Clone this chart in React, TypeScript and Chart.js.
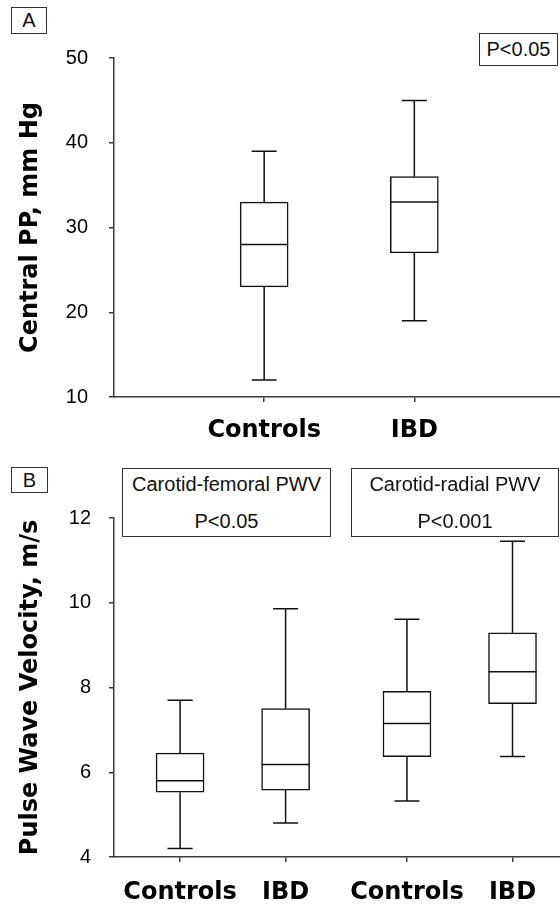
import React, { useEffect, useRef } from 'react';
import { Chart, registerables } from 'chart.js';

Chart.register(...registerables);

// ---------- Panel A: Central pulse pressure (mm Hg) ----------
const centralPPCategories = ['Controls', 'IBD'];
const centralPPGroups = ['Central PP', 'Central PP'];
const centralPPMin = [12, 19];
const centralPPQ1 = [23, 27];
const centralPPMedian = [28, 33];
const centralPPQ3 = [33, 36];
const centralPPMax = [39, 45];
const centralPPTicks = [10, 20, 30, 40, 50];
const centralPPPValue = 'P<0.05';

// ---------- Panel B: Pulse wave velocity (m/s) ----------
const pwvCategories = ['Controls', 'IBD', 'Controls', 'IBD'];
const pwvGroups = ['Carotid-femoral PWV', 'Carotid-femoral PWV', 'Carotid-radial PWV', 'Carotid-radial PWV'];
const pwvMin = [4.2, 4.8, 5.32, 6.37];
const pwvQ1 = [5.53, 5.58, 6.37, 7.62];
const pwvMedian = [5.8, 6.18, 7.15, 8.37];
const pwvQ3 = [6.45, 7.5, 7.91, 9.29];
const pwvMax = [7.7, 9.86, 9.61, 11.45];
const pwvTicks = [4, 6, 8, 10, 12];
const pwvGroupLabels = ['Carotid-femoral PWV', 'Carotid-radial PWV'];
const pwvGroupPValues = ['P<0.05', 'P<0.001'];

const BOX_COLOR = '#111111';
const AXIS_COLOR = '#3a3a3a';
const TEXT_FONT = '"Liberation Sans", Arial, Helvetica, sans-serif';
const BOLD_FONT = '"DejaVu Sans", Arial, sans-serif';

type PanelProps = {
  categories: string[];
  groups: string[];
  min: number[];
  q1: number[];
  median: number[];
  q3: number[];
  max: number[];
  yTicks: number[];
  yTitle: string;
  width: number;
  height: number;
  padTop: number;
  xHeight: number;
  xPad: number;
  yPad: number;
  xMin: number;
  xMax: number;
  groupGap: number;
};

function makeBoxWhiskerPlugin(xs: number[], p: PanelProps) {
  return {
    id: 'boxWhisker',
    afterDatasetsDraw(chart: any) {
      const { ctx } = chart;
      const xScale = chart.scales.x;
      const yScale = chart.scales.y;
      const half = 24;
      const capHalf = 12.5;
      ctx.save();
      ctx.strokeStyle = BOX_COLOR;
      ctx.lineWidth = 1.5;
      xs.forEach((xv, i) => {
        const px = xScale.getPixelForValue(xv);
        const yMed = yScale.getPixelForValue(p.median[i]);
        const yQ1 = yScale.getPixelForValue(p.q1[i]);
        const yQ3 = yScale.getPixelForValue(p.q3[i]);
        const yMin = yScale.getPixelForValue(p.min[i]);
        const yMax = yScale.getPixelForValue(p.max[i]);
        ctx.beginPath();
        // median
        ctx.moveTo(px - half, yMed);
        ctx.lineTo(px + half, yMed);
        // upper whisker
        ctx.moveTo(px, yQ3);
        ctx.lineTo(px, yMax);
        ctx.moveTo(px - capHalf, yMax);
        ctx.lineTo(px + capHalf, yMax);
        // lower whisker
        ctx.moveTo(px, yQ1);
        ctx.lineTo(px, yMin);
        ctx.moveTo(px - capHalf, yMin);
        ctx.lineTo(px + capHalf, yMin);
        ctx.stroke();
      });
      ctx.restore();
    },
  };
}

function BoxPanel(p: PanelProps) {
  const ref = useRef<HTMLCanvasElement | null>(null);
  useEffect(() => {
    if (!ref.current) return;
    const groupOrder: string[] = [];
    p.groups.forEach((g) => {
      if (!groupOrder.includes(g)) groupOrder.push(g);
    });
    const xs = p.categories.map((_, i) => i + 1 + groupOrder.indexOf(p.groups[i]) * p.groupGap);
    const chart = new Chart(ref.current, {
      type: 'bar',
      data: {
        datasets: [
          {
            data: xs.map((x, i) => ({ x, y: [p.q1[i], p.q3[i]] })) as any,
            backgroundColor: '#ffffff',
            borderColor: BOX_COLOR,
            borderWidth: 1.5,
            borderSkipped: false,
            barThickness: 48,
          } as any,
        ],
      },
      options: {
        responsive: false,
        animation: false,
        devicePixelRatio: 1,
        layout: { padding: { top: p.padTop, left: 0, right: 0, bottom: 0 } },
        plugins: { legend: { display: false }, tooltip: { enabled: false } },
        scales: {
          x: {
            type: 'linear',
            min: p.xMin,
            max: p.xMax,
            offset: false,
            grid: { drawOnChartArea: false, drawTicks: true, tickLength: 5, color: AXIS_COLOR, lineWidth: 1.5, offset: false },
            border: { display: true, color: AXIS_COLOR, width: 1.5 },
            afterBuildTicks: (s: any) => {
              s.ticks = xs.map((v) => ({ value: v }));
            },
            afterFit: (s: any) => {
              s.height = p.xHeight;
            },
            ticks: {
              autoSkip: false,
              maxRotation: 0,
              padding: p.xPad,
              color: '#000',
              font: { family: BOLD_FONT, size: 24, weight: 'bold' },
              callback: (_v: any, i: number) => p.categories[i],
            },
          },
          y: {
            type: 'linear',
            min: p.yTicks[0],
            max: p.yTicks[p.yTicks.length - 1],
            grid: { drawOnChartArea: false, drawTicks: true, tickLength: 5, color: AXIS_COLOR, lineWidth: 1.5 },
            border: { display: true, color: AXIS_COLOR, width: 1.5 },
            afterBuildTicks: (s: any) => {
              s.ticks = p.yTicks.map((v) => ({ value: v }));
            },
            afterFit: (s: any) => {
              s.width = 114;
            },
            ticks: {
              padding: p.yPad,
              color: '#000',
              font: { family: TEXT_FONT, size: 20 },
              callback: (v: any) => String(v),
            },
            title: {
              display: true,
              text: p.yTitle,
              color: '#000',
              font: { family: BOLD_FONT, size: 24, weight: 'bold' },
              padding: { top: 16, bottom: 0 },
            },
          },
        },
      } as any,
      plugins: [makeBoxWhiskerPlugin(xs, p)],
    });
    return () => chart.destroy();
  }, []);
  return <canvas ref={ref} width={p.width} height={p.height} style={{ display: 'block', width: p.width, height: p.height }} />;
}

const boxStyle: React.CSSProperties = {
  position: 'absolute',
  border: '1px solid #333',
  boxSizing: 'border-box',
  background: '#fff',
  fontFamily: TEXT_FONT,
  fontSize: 20,
  color: '#111',
  textAlign: 'center',
};

function TwoLineBox(props: { left: number; width: number; top: number; line1: string; line2: string }) {
  return (
    <div style={{ ...boxStyle, left: props.left, top: props.top, width: props.width, height: 69 }}>
      <div style={{ position: 'absolute', left: 0, right: 0, top: 3, lineHeight: '24px' }}>{props.line1}</div>
      <div style={{ position: 'absolute', left: 0, right: 0, top: 40, lineHeight: '24px' }}>{props.line2}</div>
    </div>
  );
}

export default function App() {
  return (
    <div style={{ position: 'absolute', left: 0, top: 0, width: 560, height: 907, background: '#fff', overflow: 'hidden' }}>
      <div style={{ position: 'absolute', left: 0, top: 0 }}>
        <BoxPanel
          categories={centralPPCategories}
          groups={centralPPGroups}
          min={centralPPMin}
          q1={centralPPQ1}
          median={centralPPMedian}
          q3={centralPPQ3}
          max={centralPPMax}
          yTicks={centralPPTicks}
          yTitle="Central PP, mm Hg"
          width={560}
          height={445}
          padTop={58}
          xHeight={48}
          xPad={14}
          yPad={21}
          xMin={0}
          xMax={2.97}
          groupGap={0}
        />
      </div>
      <div style={{ position: 'absolute', left: 0, top: 445 }}>
        <BoxPanel
          categories={pwvCategories}
          groups={pwvGroups}
          min={pwvMin}
          q1={pwvQ1}
          median={pwvMedian}
          q3={pwvQ3}
          max={pwvMax}
          yTicks={pwvTicks}
          yTitle="Pulse Wave Velocity, m/s"
          width={560}
          height={462}
          padTop={73}
          xHeight={50}
          xPad={16}
          yPad={18}
          xMin={0.374}
          xMax={4.6}
          groupGap={0.15}
        />
      </div>
      <div style={{ ...boxStyle, left: 11, top: 7, width: 36, height: 27, lineHeight: '25px' }}>A</div>
      <div style={{ ...boxStyle, left: 479, top: 33, width: 79, height: 33, lineHeight: '31px' }}>{centralPPPValue}</div>
      <div style={{ ...boxStyle, left: 11, top: 467, width: 37, height: 26, lineHeight: '24px' }}>B</div>
      <TwoLineBox left={122} width={209} top={468} line1={pwvGroupLabels[0]} line2={pwvGroupPValues[0]} />
      <TwoLineBox left={351} width={208} top={468} line1={pwvGroupLabels[1]} line2={pwvGroupPValues[1]} />
    </div>
  );
}
